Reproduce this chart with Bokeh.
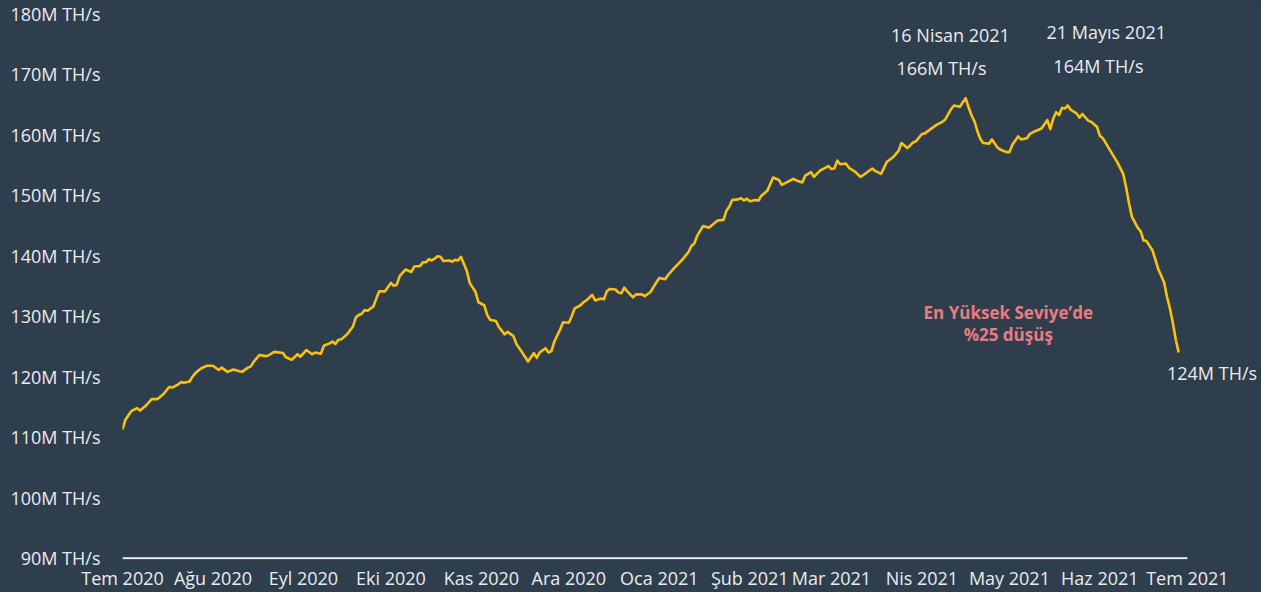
import pandas as pd
from bokeh.plotting import figure
from bokeh.models import FixedTicker, Label, ColumnDataSource
from bokeh.embed import file_html
from bokeh.resources import INLINE

# ---------------- data ----------------
START_DATE = "2020-07-01"
END_DATE = "2021-07-01"

# day offsets from START_DATE
days = [0, 1, 3, 5, 6, 8, 10, 12, 14, 16, 17, 19, 20, 21, 23, 24, 25, 27, 29, 31,
        33, 34, 36, 38, 40, 41, 43, 44, 45, 47, 49, 50, 52, 55, 56, 58, 60, 61, 63, 65,
        66, 68, 69, 71, 72, 73, 74, 75, 77, 79, 80, 81, 82, 83, 84, 86, 87, 88, 90, 92,
        93, 94, 95, 97, 99, 100, 102, 103, 104, 105, 106, 107, 108, 109, 110, 112, 113, 114, 115, 116,
        118, 119, 121, 122, 124, 125, 126, 128, 129, 131, 132, 134, 135, 137, 139, 141, 142, 143, 145, 146,
        147, 148, 150, 151, 153, 154, 155, 157, 158, 159, 161, 162, 164, 165, 166, 167, 169, 170, 171, 172,
        173, 175, 176, 178, 179, 181, 183, 184, 186, 187, 189, 191, 192, 194, 195, 196, 197, 199, 201, 202,
        204, 206, 207, 208, 209, 211, 212, 213, 214, 215, 217, 218, 219, 221, 223, 225, 226, 228, 230, 231,
        233, 234, 236, 237, 239, 240, 242, 243, 244, 245, 246, 248, 249, 251, 253, 255, 257, 258, 260, 261,
        262, 264, 266, 267, 269, 270, 271, 272, 274, 275, 277, 279, 281, 282, 284, 285, 287, 289, 290, 291,
        292, 293, 294, 295, 297, 298, 300, 301, 303, 304, 305, 307, 308, 310, 311, 313, 315, 316, 317, 318,
        319, 320, 321, 322, 323, 324, 325, 327, 328, 329, 331, 332, 334, 335, 336, 338, 340, 341, 343, 344,
        345, 346, 348, 349, 350, 351, 353, 354, 355, 357, 358, 359, 360, 361, 362]

# hashrate in million TH/s
hashrate = [111.3, 112.9, 114.3, 114.8, 114.4, 115.2, 116.3, 116.3, 117.1, 118.3, 118.2, 118.7, 119.1, 119.0, 119.2, 120.0, 120.6, 121.4, 121.8, 121.8,
            121.1, 121.5, 120.8, 121.2, 120.9, 120.8, 121.5, 121.7, 122.5, 123.6, 123.4, 123.5, 124.1, 123.9, 123.2, 122.8, 123.7, 123.3, 124.4, 123.7,
            124.0, 123.8, 125.1, 125.5, 125.8, 125.4, 126.1, 126.2, 127.0, 128.3, 129.8, 130.2, 130.4, 131.0, 130.9, 131.6, 132.9, 134.1, 134.1, 135.5,
            135.0, 135.2, 136.6, 137.7, 137.3, 138.2, 138.3, 138.9, 138.9, 139.4, 139.2, 139.5, 139.9, 139.8, 139.1, 139.2, 139.0, 139.3, 139.2, 139.8,
            137.5, 135.5, 134.0, 132.3, 131.8, 130.2, 129.4, 129.2, 128.2, 127.0, 127.4, 126.7, 125.4, 124.0, 122.5, 123.9, 123.1, 124.0, 124.7, 124.0,
            124.2, 125.8, 127.8, 129.0, 128.9, 130.0, 131.3, 131.8, 132.3, 132.6, 133.5, 132.6, 132.9, 132.8, 134.1, 134.5, 134.4, 133.9, 133.8, 134.7,
            134.1, 133.1, 133.6, 133.6, 133.3, 134.0, 135.6, 136.3, 136.1, 136.8, 137.9, 138.9, 139.4, 140.6, 141.6, 142.0, 143.3, 144.9, 144.6, 145.0,
            145.8, 145.9, 147.4, 148.1, 149.2, 149.3, 149.5, 149.1, 149.4, 149.0, 149.2, 149.1, 149.9, 150.7, 152.9, 152.5, 151.7, 152.2, 152.7, 152.4,
            152.1, 153.2, 153.8, 153.0, 154.0, 154.3, 154.8, 154.3, 154.4, 155.7, 155.1, 155.2, 154.5, 153.9, 153.0, 153.7, 154.4, 154.0, 153.5, 154.5,
            155.5, 156.2, 157.3, 158.6, 157.8, 158.2, 158.7, 158.9, 160.1, 160.2, 160.9, 161.6, 162.1, 162.5, 164.2, 164.8, 164.6, 166.0, 164.5, 163.2,
            162.2, 160.6, 159.3, 158.6, 158.5, 159.2, 157.8, 157.5, 157.1, 157.1, 158.3, 159.7, 159.2, 159.4, 160.1, 160.6, 161.0, 161.7, 162.4, 160.9,
            162.6, 163.7, 163.2, 164.4, 164.3, 164.8, 164.1, 163.5, 162.8, 163.4, 162.3, 162.1, 161.3, 159.8, 159.4, 157.8, 156.2, 155.4, 153.5, 151.3,
            148.6, 146.4, 144.6, 144.0, 142.5, 142.4, 140.9, 139.4, 137.8, 135.6, 133.2, 131.3, 128.9, 126.2, 124.0]

y_ticks = [90, 100, 110, 120, 130, 140, 150, 160, 170, 180]
y_tick_labels = ["90M TH/s", "100M TH/s", "110M TH/s", "120M TH/s", "130M TH/s",
                 "140M TH/s", "150M TH/s", "160M TH/s", "170M TH/s", "180M TH/s"]

month_starts = ["2020-07-01", "2020-08-01", "2020-09-01", "2020-10-01", "2020-11-01",
                "2020-12-01", "2021-01-01", "2021-02-01", "2021-03-01", "2021-04-01",
                "2021-05-01", "2021-06-01", "2021-07-01"]
month_labels = ["Tem 2020", "Ağu 2020", "Eyl 2020", "Eki 2020", "Kas 2020", "Ara 2020",
                "Oca 2021", "Şub 2021", "Mar 2021", "Nis 2021", "May 2021", "Haz 2021", "Tem 2021"]

peak1_label = ["16 Nisan 2021", "166M TH/s"]
peak2_label = ["21 Mayıs 2021", "164M TH/s"]
last_label = "124M TH/s"
drop_label = ["En Yüksek Seviye’de", "%25 düşüş"]

# ---------------- styling ----------------
BG = "#2f3e4d"
LINE = "#fbc10d"
TXT = "#ececec"
RED = "#ea7c80"
FONT = "Open Sans"

DAY_MS = 86400000


def ms(d):
    return int(pd.Timestamp(d).value // 1_000_000)


start_ms = ms(START_DATE)
end_ms = ms(END_DATE)
dates = pd.to_datetime(START_DATE) + pd.to_timedelta(days, unit="D")
src = ColumnDataSource(dict(date=dates, value=hashrate))

# frame extends to the right edge so that the end label is not clipped
p = figure(width=1261, height=592, x_axis_type="datetime",
           x_range=(start_ms, end_ms + 25.4 * DAY_MS), y_range=(89.8, 180),
           output_backend="svg", toolbar_location=None,
           background_fill_color=BG, border_fill_color=BG,
           min_border_left=122, min_border_right=0, min_border_top=13, min_border_bottom=29)
p.styles = {"background-color": BG}
p.outline_line_color = None
p.grid.visible = False

# baseline along the x axis (Jul 2020 - Jul 2021)
p.segment(x0=[start_ms], y0=[90], x1=[end_ms], y1=[90], line_color="#f2f2f2", line_width=2)

p.line("date", "value", source=src, line_color=LINE, line_width=2.6, line_join="round")

# y axis
p.yaxis.ticker = FixedTicker(ticks=y_ticks)
p.yaxis.major_label_overrides = {t: l for t, l in zip(y_ticks, y_tick_labels)}
p.yaxis.axis_line_color = None
p.yaxis.major_tick_line_color = None
p.yaxis.minor_tick_line_color = None
p.yaxis.major_tick_out = 0
p.yaxis.major_label_standoff = 22
p.yaxis.major_label_text_font = FONT
p.yaxis.major_label_text_font_size = "18px"
p.yaxis.major_label_text_color = TXT

# x axis
x_ticks = [ms(d) for d in month_starts]
p.xaxis.ticker = FixedTicker(ticks=x_ticks)
p.xaxis.major_label_overrides = {t: l for t, l in zip(x_ticks, month_labels)}
p.xaxis.axis_line_color = None
p.xaxis.major_tick_line_color = None
p.xaxis.minor_tick_line_color = None
p.xaxis.major_tick_out = 0
p.xaxis.major_label_standoff = 6
p.xaxis.major_label_text_font = FONT
p.xaxis.major_label_text_font_size = "18px"
p.xaxis.major_label_text_color = TXT


def add_label(day, y, text, color=TXT, style="normal", size="18px", align="center"):
    p.add_layout(Label(x=start_ms + day * DAY_MS, y=y, text=text, text_align=align,
                       text_baseline="middle", text_font=FONT, text_font_size=size,
                       text_color=color, text_font_style=style))


add_label(283.8, 176.4, peak1_label[0])
add_label(280.7, 171.0, peak1_label[1])
add_label(337.2, 177.0, peak2_label[0])
add_label(334.5, 171.3, peak2_label[1])
add_label(358.0, 120.6, last_label, align="left")
add_label(303.6, 130.6, drop_label[0], color=RED, style="bold", size="17px")
add_label(303.6, 126.9, drop_label[1], color=RED, style="bold", size="17px")

open("out.html", "w").write(file_html(p, INLINE))
